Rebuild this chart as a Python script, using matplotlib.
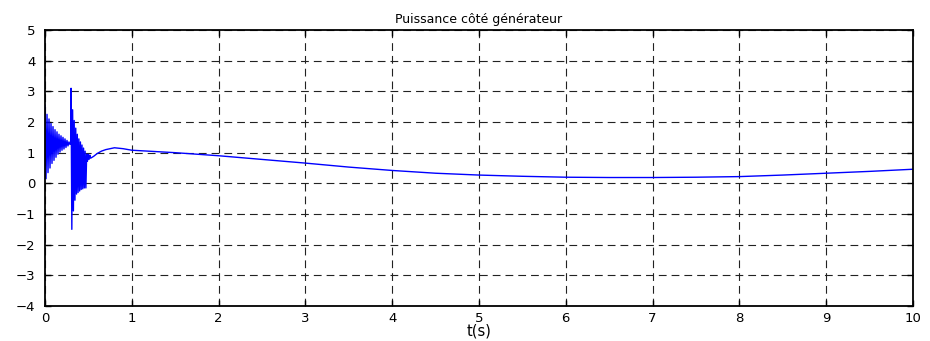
import numpy as np
import matplotlib.pyplot as plt

# start-up transient (t = 0 .. 0.29 s), alternating peaks and troughs
t_start = [0.000, 0.0115, 0.023, 0.0345, 0.046, 0.0575, 0.069, 0.0805, 0.092, 0.1035,
           0.115, 0.1265, 0.138, 0.1495, 0.161, 0.1725, 0.184, 0.1955, 0.207, 0.2185,
           0.230, 0.2415, 0.253, 0.2645, 0.276, 0.2875, 0.298]
p_start = [2.55, 0.15, 2.25, 0.35, 2.10, 0.50, 1.95, 0.65, 1.85, 0.75,
           1.75, 0.85, 1.68, 0.95, 1.60, 1.02, 1.55, 1.08, 1.50, 1.12,
           1.45, 1.17, 1.40, 1.22, 1.35, 1.27, 1.30]

# second transient after the switching at t = 0.3 s
t_step = [0.300, 0.309, 0.318, 0.327, 0.336, 0.345, 0.354, 0.363, 0.372, 0.381,
          0.390, 0.399, 0.408, 0.417, 0.426, 0.435, 0.444, 0.453, 0.462, 0.471,
          0.480, 0.489, 0.498, 0.507, 0.516, 0.525]
p_step = [3.10, -1.50, 2.40, -0.90, 2.05, -0.55, 1.80, -0.35, 1.60, -0.30,
          1.45, -0.25, 1.35, -0.20, 1.25, -0.18, 1.15, -0.15, 1.05, -0.15,
          0.95, 0.72, 0.95, 0.78, 0.92, 0.82]

# slow evolution until the end of the simulation
t_slow = [0.56, 0.60, 0.65, 0.70, 0.80, 0.90, 1.0, 1.5, 2.0, 2.5, 3.0, 3.5, 4.0,
          4.5, 5.0, 5.5, 6.0, 6.5, 7.0, 7.5, 8.0, 8.5, 9.0, 9.5, 10.0]
p_slow = [0.88, 0.97, 1.05, 1.10, 1.16, 1.13, 1.08, 1.00, 0.90, 0.78, 0.66, 0.53, 0.42,
          0.33, 0.27, 0.23, 0.20, 0.19, 0.19, 0.20, 0.22, 0.27, 0.33, 0.39, 0.46]

t = np.concatenate([t_start, t_step, t_slow])
p = np.concatenate([p_start, p_step, p_slow])

plt.rcParams['font.family'] = ['DejaVu Sans']

fig = plt.figure(figsize=(9.3, 3.41), dpi=100)
ax = fig.add_axes([0.0484, 0.1026, 0.9333, 0.8094])

ax.plot(t, p, color='#0000ff', linewidth=1.0)

ax.set_xlim(0, 10)
ax.set_ylim(-4, 5)
ax.set_xticks(np.arange(0, 11, 1))
ax.set_yticks(np.arange(-4, 6, 1))
ax.grid(True, color='#222222', linestyle=(0, (7, 4.5)), linewidth=0.8)
ax.tick_params(direction='in', length=4, width=1, labelsize=9.5, top=True, right=True)
ax.tick_params(axis='y', pad=7)
ax.tick_params(axis='x', pad=4)
for s in ax.spines.values():
    s.set_linewidth(1.3)

ax.set_title('Puissance côté générateur', fontsize=9, pad=5)
ax.set_xlabel('t(s)', fontsize=10.5, labelpad=-1)

fig.savefig('out.png', dpi=100)
